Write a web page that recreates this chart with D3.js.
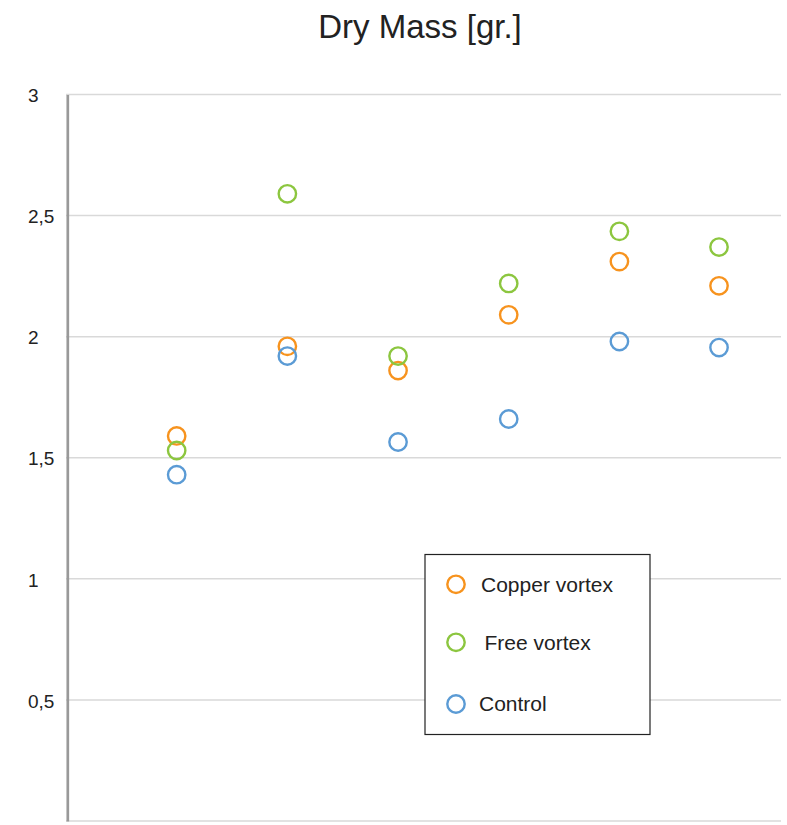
<!DOCTYPE html>
<html>
<head>
<meta charset="utf-8">
<script src="https://cdn.jsdelivr.net/npm/d3@7"></script>
<style>
  html, body { margin: 0; padding: 0; background: #fff; }
  svg { display: block; font-family: "Liberation Sans", Arial, Helvetica, sans-serif; }
</style>
</head>
<body>
<svg id="chart" width="787" height="825"></svg>
<script>
// ---- data ----
const samples = [1, 2, 3, 4, 5, 5.9];
const copperVortex = [1.59, 1.96, 1.86, 2.09, 2.31, 2.21];
const freeVortex = [1.53, 2.59, 1.92, 2.22, 2.435, 2.37];
const control = [1.43, 1.92, 1.565, 1.66, 1.98, 1.955];
const seriesNames = ["Copper vortex", "Free vortex", "Control"];
const yTicks = [0.5, 1, 1.5, 2, 2.5, 3];
const title = "Dry Mass [gr.]";

// ---- layout ----
const svg = d3.select("#chart");
const colors = ["#F7931E", "#8CC63F", "#5B9BD5"];
const x = d3.scaleLinear().domain([0, 6.46]).range([66, 781]);
const y = d3.scaleLinear().domain([0, 3]).range([821, 94.5]);

const allSeries = [copperVortex, freeVortex, control];

// title
svg.append("text")
  .attr("x", 420).attr("y", 38)
  .attr("text-anchor", "middle")
  .attr("font-size", 33)
  .attr("fill", "#222")
  .text(title);

// gridlines
svg.append("g").selectAll("line")
  .data([0].concat(yTicks))
  .join("line")
  .attr("x1", x(0)).attr("x2", x.range()[1])
  .attr("y1", d => y(d)).attr("y2", d => y(d))
  .attr("stroke", "#d9d9d9")
  .attr("stroke-width", 1.5);

// y axis via d3.axisLeft with custom styling
const yAxis = d3.axisLeft(y)
  .tickValues(yTicks)
  .tickSize(0)
  .tickFormat(d => String(d).replace(".", ","));
const gy = svg.append("g")
  .attr("transform", `translate(${x(0) + 1.3},0)`)
  .attr("font-size", 19)
  .call(yAxis);
gy.attr("font-size", 19).attr("font-family", "'Liberation Sans', Arial, sans-serif");
gy.select(".domain")
  .attr("stroke", "#999")
  .attr("stroke-width", 2.7);
gy.selectAll(".tick text")
  .attr("font-size", 19)
  .attr("fill", "#222")
  .attr("text-anchor", "start")
  .attr("x", 28 - (x(0) + 1.3))
  .attr("dy", "0.38em");

// points
allSeries.forEach((vals, i) => {
  svg.append("g").selectAll("circle")
    .data(vals.map((v, j) => ({ x: samples[j], y: v })))
    .join("circle")
    .attr("cx", d => x(d.x))
    .attr("cy", d => y(d.y))
    .attr("r", 8.7)
    .attr("fill", "none")
    .attr("stroke", colors[i])
    .attr("stroke-width", 2.4);
});

// legend
const lg = svg.append("g");
lg.append("rect")
  .attr("x", 425).attr("y", 554.5)
  .attr("width", 225).attr("height", 180)
  .attr("fill", "#fff")
  .attr("stroke", "#222")
  .attr("stroke-width", 1.2);
const legY = [584.3, 642.3, 704];
const legTx = [481, 484.5, 479];
seriesNames.forEach((name, i) => {
  lg.append("circle")
    .attr("cx", 456).attr("cy", legY[i])
    .attr("r", 8.7)
    .attr("fill", "none")
    .attr("stroke", colors[i])
    .attr("stroke-width", 2.4);
  lg.append("text")
    .attr("x", legTx[i]).attr("y", legY[i])
    .attr("dy", "0.35em")
    .attr("font-size", 21)
    .attr("fill", "#222")
    .text(name);
});
</script>
</body>
</html>
